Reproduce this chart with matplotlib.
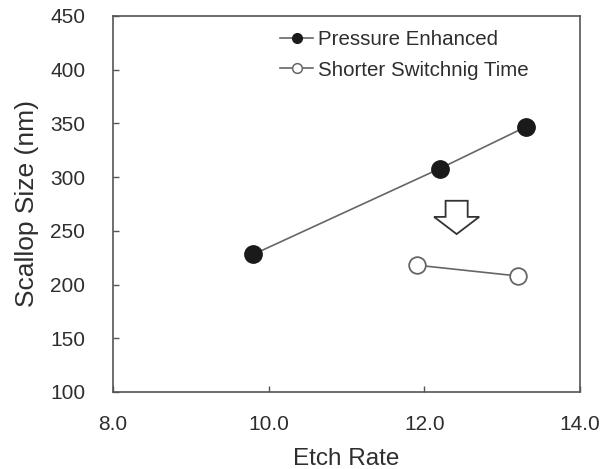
import matplotlib
matplotlib.use("Agg")
import matplotlib.pyplot as plt
from matplotlib.patches import Polygon
from matplotlib.lines import Line2D

# Data
pressure_rate = [9.80, 12.20, 13.31]
pressure_scallop = [228, 308, 347]
switch_rate = [11.91, 13.20]
switch_scallop = [218, 208]

x_ticks = [8.0, 10.0, 12.0, 14.0]
y_ticks = [100, 150, 200, 250, 300, 350, 400, 450]

plt.rcParams['font.family'] = ['Liberation Sans', 'DejaVu Sans']
text_color = '#2e2e2e'
spine_color = '#555555'
line_color = '#666666'

fig = plt.figure(figsize=(6.07, 4.69), dpi=100)
ax = fig.add_axes([0.1862, 0.1642, 0.7693, 0.8017])

ax.plot(pressure_rate, pressure_scallop, '-', color=line_color, lw=1.2, zorder=2)
ax.plot(pressure_rate, pressure_scallop, 'o', ms=12.5, mfc='#1a1a1a', mec='#1a1a1a', zorder=3)
ax.plot(switch_rate, switch_scallop, '-', color=line_color, lw=1.2, zorder=2)
ax.plot(switch_rate, switch_scallop, 'o', ms=12, mfc='white', mec=line_color, mew=1.3, zorder=3)

# Block arrow pointing down
ax_x, y_top, y_tip = 12.415, 278, 247
shaft_w, head_w, head_len = 0.142, 0.29, 16
arrow_pts = [
    (ax_x - shaft_w, y_top), (ax_x + shaft_w, y_top),
    (ax_x + shaft_w, y_tip + head_len), (ax_x + head_w, y_tip + head_len),
    (ax_x, y_tip), (ax_x - head_w, y_tip + head_len),
    (ax_x - shaft_w, y_tip + head_len),
]
ax.add_patch(Polygon(arrow_pts, closed=True, facecolor='white',
                     edgecolor='#333333', lw=1.3, zorder=2))

ax.set_xlim(8, 14)
ax.set_ylim(100, 450)
ax.set_xticks(x_ticks)
ax.set_xticklabels([f"{v:.1f}" for v in x_ticks])
ax.set_yticks(y_ticks)
ax.set_yticklabels([str(v) for v in y_ticks])

ax.tick_params(direction='in', length=4.5, width=1, color=spine_color,
               labelsize=15, labelcolor=text_color)
ax.tick_params(axis='y', pad=20)
ax.tick_params(axis='x', pad=16.5)
for s in ax.spines.values():
    s.set_color(spine_color)
    s.set_linewidth(1.2)

ax.set_xlabel('Etch Rate', fontsize=17.5, color=text_color, labelpad=10)
ax.set_ylabel('Scallop Size (nm)', fontsize=19, color=text_color, labelpad=8)

handles = [
    Line2D([], [], color=line_color, lw=1.2, marker='o', ms=7,
           mfc='#1a1a1a', mec='#1a1a1a'),
    Line2D([], [], color=line_color, lw=1.2, marker='o', ms=7,
           mfc='white', mec=line_color, mew=1.1),
]
ax.legend(handles, ['Pressure Enhanced', 'Shorter Switchnig Time'],
          loc='upper left', bbox_to_anchor=(0.358, 0.962), frameon=False,
          fontsize=14.8, labelcolor=text_color, borderpad=0, borderaxespad=0,
          handlelength=1.6, handletextpad=0.25, labelspacing=0.55)

fig.savefig('out.png', dpi=100)
